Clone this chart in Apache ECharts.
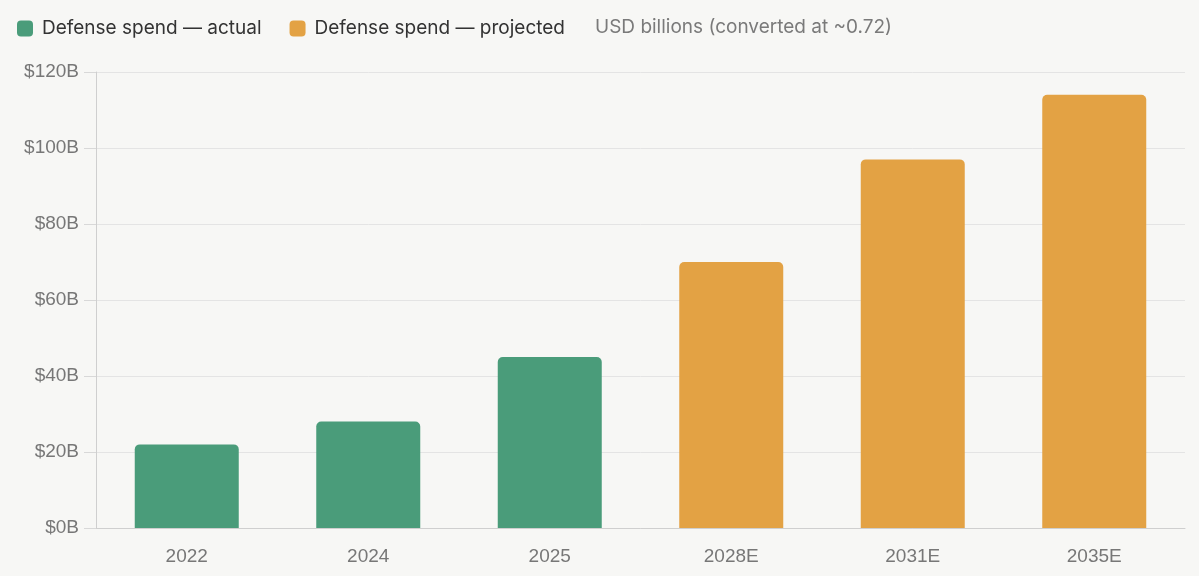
<!DOCTYPE html>
<html>
<head>
<meta charset="utf-8">
<script src="https://cdn.jsdelivr.net/npm/echarts@6/dist/echarts.min.js"></script>
<style>
  html, body { margin: 0; padding: 0; background: #f7f7f5; }
  #chart { width: 1199px; height: 576px; }
</style>
</head>
<body>
<div id="chart"></div>
<script>
    const categories = ['2022', '2024', '2025', '2028E', '2031E', '2035E'];
    const actualValues = [22, 28, 45, '-', '-', '-'];
    const projectedValues = ['-', '-', '-', 70, 97, 114];
    const yTicks = { min: 0, max: 120, interval: 20 };

    const chart = echarts.init(document.getElementById('chart'));

    chart.setOption({
        backgroundColor: '#f7f7f5',
        animation: false,
        legend: {
            left: 17,
            top: 19,
            padding: 0,
            itemWidth: 16,
            itemHeight: 16,
            itemGap: 28,
            icon: 'roundRect',
            textStyle: { fontFamily: 'Inter', fontSize: 19, color: '#333', padding: [0, 0, 0, 4] },
            data: ['Defense spend — actual', 'Defense spend — projected']
        },
        graphic: [{
            type: 'text',
            left: 595,
            top: 18,
            style: {
                text: 'USD billions (converted at ~0.72)',
                font: '19px Inter',
                fill: '#7a7a7a'
            }
        }],
        grid: { left: 96, right: 14, top: 72, bottom: 48, containLabel: false },
        xAxis: {
            type: 'category',
            data: categories,
            axisLine: { lineStyle: { color: '#cfcfcf' } },
            axisTick: { show: false },
            axisLabel: { fontFamily: 'Liberation Sans', fontSize: 19, color: '#777', margin: 19 }
        },
        yAxis: {
            type: 'value',
            min: yTicks.min,
            max: yTicks.max,
            interval: yTicks.interval,
            axisLine: { show: true, lineStyle: { color: '#cfcfcf' } },
            axisTick: { show: true, length: 12, lineStyle: { color: '#d8d8d8' } },
            splitLine: { lineStyle: { color: '#e4e4e4' } },
            axisLabel: {
                fontFamily: 'Liberation Sans', fontSize: 19, color: '#777', margin: 17,
                formatter: v => '$' + v + 'B'
            }
        },
        series: [
            {
                name: 'Defense spend — actual',
                type: 'bar',
                stack: 'spend',
                barWidth: 104,
                itemStyle: { color: '#4a9c7a', borderRadius: [5, 5, 0, 0] },
                data: actualValues
            },
            {
                name: 'Defense spend — projected',
                type: 'bar',
                stack: 'spend',
                barWidth: 104,
                itemStyle: { color: '#e3a244', borderRadius: [5, 5, 0, 0] },
                data: projectedValues
            }
        ]
    });
</script>
</body>
</html>
